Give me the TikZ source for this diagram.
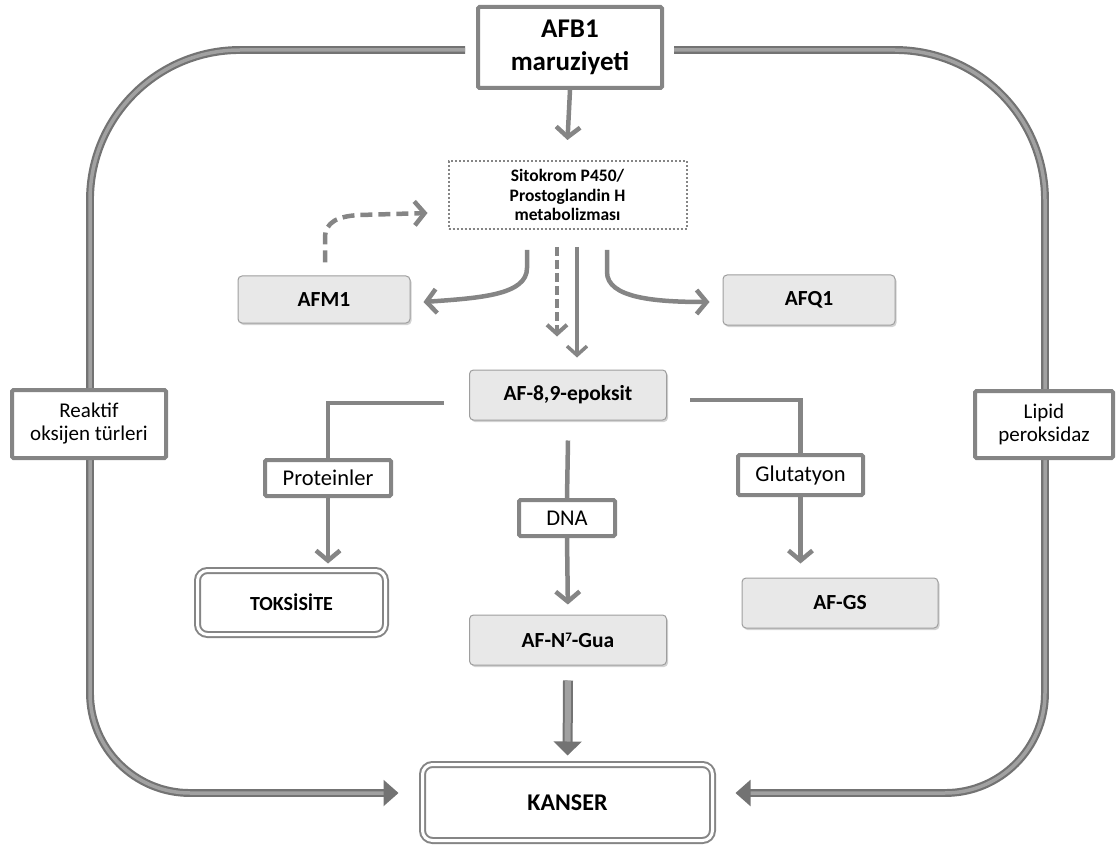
\documentclass[tikz,border=0pt]{standalone}
\usepackage{fontspec}
\setmainfont{Carlito}
\usetikzlibrary{arrows.meta,shadows,backgrounds,calc}
\definecolor{lnc}{gray}{0.52}
\definecolor{boxfill}{gray}{0.91}
\definecolor{boxline}{gray}{0.62}
\definecolor{loopd}{gray}{0.45}
\definecolor{loopm}{gray}{0.63}
\begin{document}
\begin{tikzpicture}[x=1pt,y=1pt,
  gbox/.style={draw=boxline, line width=1pt, fill=boxfill, rounded corners=4pt,
    drop shadow={shadow xshift=1.5pt, shadow yshift=-2pt, opacity=0.35},
    font=\bfseries\fontsize{21.5}{25}\selectfont, inner sep=0pt},
  wbox/.style={draw=lnc, line width=4pt, fill=white, rounded corners=1.5pt, inner sep=0pt,
    font=\fontsize{22.5}{24}\selectfont, align=center},
  dbox/.style={draw=lnc, line width=2pt, double=white, double distance=3pt,
    rounded corners=10pt, inner sep=0pt},
  dotbox/.style={draw=lnc, line width=2pt, dash pattern=on 2pt off 2pt, fill=white,
    inner sep=0pt, align=center, font=\bfseries\fontsize{17.5}{19.5}\selectfont},
  conn/.style={draw=lnc, line width=4.5pt, -{Straight Barb[length=10pt,width=24pt]}},
  thinconn/.style={draw=lnc, line width=3.5pt, -{Straight Barb[length=9pt,width=20pt]}},
  dashconn/.style={draw=lnc, line width=4.5pt, dash pattern=on 12pt off 6pt, -{Straight Barb[length=10pt,width=24pt]}},
  plainline/.style={draw=lnc, line width=4.5pt},
  loopline/.style={draw=loopd, line width=2.2pt, double=loopm, double distance=3.5pt,
    -{Triangle[length=15pt,width=26pt]}},
  blockarrow/.style={draw=loopd, line width=2pt, double=loopm, double distance=6pt,
    -{Triangle[length=14pt,width=28pt]}}
]
\useasboundingbox (0,0) rectangle (1117,-845);

% nodes
\node[wbox, minimum width=184, minimum height=81, font=\bfseries\fontsize{27}{33}\selectfont] (afb) at (570,-47.5) {AFB1\\maruziyeti};
\node[dotbox, minimum width=238, minimum height=68] (sito) at (567.5,-195) {Sitokrom P450/\\Prostoglandin H\\metabolizması};
\node[gbox, minimum width=172, minimum height=47] (afm) at (324,-299.5) {AFM1};
\node[gbox, minimum width=172, minimum height=50] (afq) at (809,-300) {AFQ1};
\node[gbox, minimum width=197, minimum height=50] (epo) at (568,-395) {AF-8,9-epoksit};
\node[wbox, minimum width=126, minimum height=36] (prot) at (328,-478) {Proteinler};
\node[wbox, minimum width=96, minimum height=36] (dna) at (567,-518) {DNA};
\node[wbox, minimum width=125, minimum height=40] (glut) at (800.5,-475) {Glutatyon};
\node[dbox, minimum width=188, minimum height=64, font=\bfseries\fontsize{20}{23}\selectfont] (toks) at (291.5,-602.5) {TOKSİSİTE};
\node[gbox, minimum width=197, minimum height=50] (afn) at (568,-640) {AF-N{\fontsize{13}{13}\selectfont\raisebox{6pt}{7}}-Gua};
\node[gbox, minimum width=196, minimum height=50] (afgs) at (840,-603) {AF-GS};
\node[dbox, minimum width=290, minimum height=76, font=\bfseries\fontsize{24}{28}\selectfont] (kanser) at (567.5,-802.5) {KANSER};
\node[wbox, minimum width=154, minimum height=68, font=\fontsize{21}{23}\selectfont] (reak) at (89,-424) {Reaktif\\oksijen türleri};
\node[wbox, minimum width=138, minimum height=67, font=\fontsize{21}{23}\selectfont] (lipid) at (1044,-424.5) {Lipid\\peroksidaz};

% outer loops
\begin{pgfonlayer}{background}
\draw[loopline] ($(afb.west)+(-11,-2.5)$) -- (240,-50) arc[start angle=90,end angle=180,radius=150]
  -- (90,-693) arc[start angle=180,end angle=270,radius=100] -- ($(kanser.west)+(-23,9.5)$);
\draw[loopline] ($(afb.east)+(10,-2.5)$) -- (895,-50) arc[start angle=90,end angle=0,radius=150]
  -- (1045,-693) arc[start angle=0,end angle=-90,radius=100] -- ($(kanser.east)+(22,9.5)$);
\end{pgfonlayer}

% connectors
\draw[conn] (afb.south) -- ($(sito.north)+(0,20)$);
\draw[dashconn] ($(afm.north)+(1,13)$) -- (325,-238)
  .. controls (325,-222) and (338,-216) .. (360,-215) -- ($(sito.west)+(-20,-18)$);
\draw[conn] ($(sito.south)+(-40.5,-20)$) -- (527,-268)
  .. controls (527,-295) and (480,-298) .. ($(afm.east)+(13,-2.5)$);
\draw[conn] ($(sito.south)+(39.5,-20)$) -- (607,-272)
  .. controls (607,-298) and (655,-302) .. ($(afq.west)+(-13,-2)$);
\draw[draw=lnc, line width=4pt, dash pattern=on 9pt off 4pt, -{Straight Barb[length=9pt,width=20pt]}]
  ($(sito.south)+(-10.5,-17)$) -- ($(epo.north)+(-11,33)$);
\draw[thinconn] ($(sito.south)+(9.5,-17)$) -- ($(epo.north)+(9,12)$);

\draw[plainline] ($(epo.west)+(-25,-8)$) -| (prot.north);
\draw[conn, shorten >=6pt] (prot.south) -- (prot.south |- toks.north);
\draw[plainline] ($(epo.east)+(23,-5)$) -| (glut.north);
\draw[conn, shorten >=14pt] (glut.south) -- (glut.south |- afgs.north);
\draw[plainline] ($(epo.south)+(0,-20)$) -- (dna.north);
\draw[conn, shorten >=10pt] (dna.south) -- (afn.north);
\draw[blockarrow, shorten >=8pt] ($(afn.south)+(0,-15)$) -- (kanser.north);
\end{tikzpicture}
\end{document}
